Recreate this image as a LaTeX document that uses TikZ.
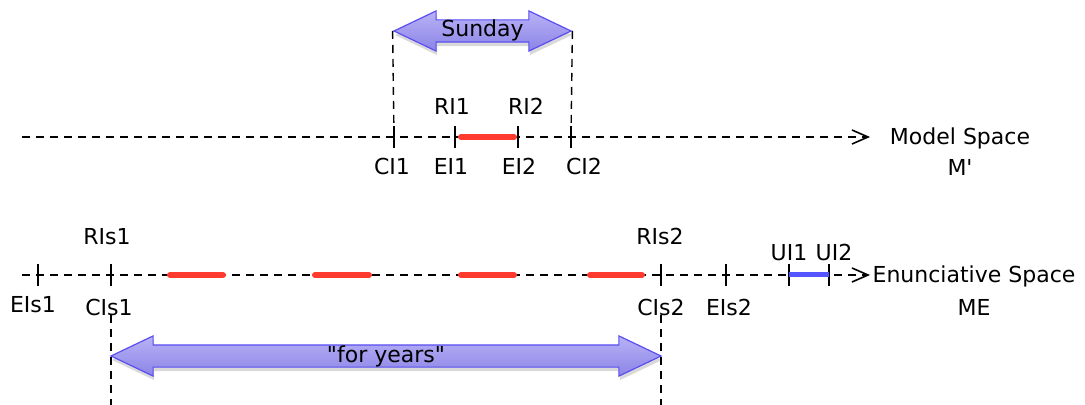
\documentclass[tikz,border=0pt]{standalone}
\usepackage{fontspec}
\setmainfont{DejaVu Sans}
\usetikzlibrary{arrows.meta,shapes.arrows,shadows,positioning}
\definecolor{spantop}{HTML}{B8B2F6}
\definecolor{spanbottom}{HTML}{8C84E6}
\definecolor{spanline}{HTML}{5A4EF2}
\definecolor{busyred}{HTML}{FF3B30}
\definecolor{nowblue}{HTML}{5555FF}
\tikzset{
	axis/.style={dash pattern=on 4pt off 3pt, line width=0.7pt, -{Straight Barb[length=8pt,width=7pt,line width=0.8pt]}},
	guide/.style={dash pattern=on 4pt off 3pt, line width=0.7pt},
	tickmark/.style={line width=0.7pt},
	lbl/.style={inner sep=0pt, text height=8pt, text depth=0pt, font=\fontsize{11}{13}\selectfont},
	span/.style={double arrow, double arrow head extend=4.5pt, double arrow tip angle=51,
		inner xsep=2pt, inner ysep=0.25pt, text height=8pt, text depth=2pt,
		top color=spantop, bottom color=spanbottom, draw=spanline, line width=0.6pt,
		drop shadow={shadow xshift=0.5pt, shadow yshift=-2pt, opacity=0.3},
		font=\fontsize{11}{13}\selectfont},
	busy/.style={busyred, line width=3pt, line cap=round},
	now/.style={nowblue, line width=2.5pt}
}
\begin{document}
\begin{tikzpicture}[x=0.5pt,y=-0.5pt]
	\useasboundingbox (0,0) rectangle (1085,405);

	\coordinate (m0) at (22,137);
	\coordinate (m1) at (870,137);
	\coordinate (ci1) at (394,137);
	\coordinate (ei1) at (455,137);
	\coordinate (ei2) at (518,137);
	\coordinate (ci2) at (571,137);
	\draw[axis] (m0) -- (m1);
	\foreach \t in {ci1,ei1,ei2,ci2}
		\draw[tickmark] ([yshift=-5.5pt]\t) -- ([yshift=5.5pt]\t);
	\draw[busy] (461,137) -- (514,137);

	\node[span, minimum height=88.5pt] (sunday) at (482.5,31) {Sunday};
	\draw[guide] (sunday.west) -- (ci1);
	\draw[guide] (sunday.east) -- (ci2);

	\node[lbl] (ri1) at (452,107) {RI1};
	\node[lbl] (ri2) at (526,107) {RI2};
	\node[lbl] (ci1l) at (392,167) {CI1};
	\node[lbl] (ei1l) at (451,167) {EI1};
	\node[lbl] (ei2l) at (519,167) {EI2};
	\node[lbl] (ci2l) at (584,167) {CI2};
	\node[lbl] (mspace) at (960,137) {Model Space};
	\node[lbl, below=7pt of mspace] (mname) {M\textquotesingle};

	\coordinate (e0) at (22,275);
	\coordinate (e1) at (870,275);
	\coordinate (eis1) at (38,275);
	\coordinate (cis1) at (111,275);
	\coordinate (cis2) at (661,275);
	\coordinate (eis2) at (726,275);
	\coordinate (ui1) at (789,275);
	\coordinate (ui2) at (829,275);
	\draw[axis] (e0) -- (e1);
	\foreach \t in {eis1,cis1,cis2,eis2,ui1,ui2}
		\draw[tickmark] ([yshift=-5.5pt]\t) -- ([yshift=5.5pt]\t);
	\foreach \a/\b in {170/223,315/369,461/514,590/642}
		\draw[busy] (\a,275) -- (\b,275);
	\draw[now] (ui1) -- (ui2);

	\node[lbl] (ris1) at (107,237) {RIs1};
	\node[lbl] (ris2) at (660,237) {RIs2};
	\node[lbl] (eis1l) at (33,305) {EIs1};
	\node[lbl] (cis1l) at (109,307) {CIs1};
	\node[lbl] (cis2l) at (661,307) {CIs2};
	\node[lbl] (eis2l) at (729,307) {EIs2};
	\node[lbl] (ui1l) at (789,253) {UI1};
	\node[lbl] (ui2l) at (834,253) {UI2};
	\node[lbl] (espace) at (974,275) {Enunciative Space};
	\node[lbl, below=8pt of espace] (ename) {ME};

	\node[span, minimum height=275pt] (years) at (386,356) {\textquotedbl for years\textquotedbl};
	\coordinate (b1) at (111,405);
	\coordinate (b2) at (661,405);
	\draw[guide] (cis1l.south -| cis1) -- (b1);
	\draw[guide] (cis2l.south -| cis2) -- (b2);
\end{tikzpicture}
\end{document}
